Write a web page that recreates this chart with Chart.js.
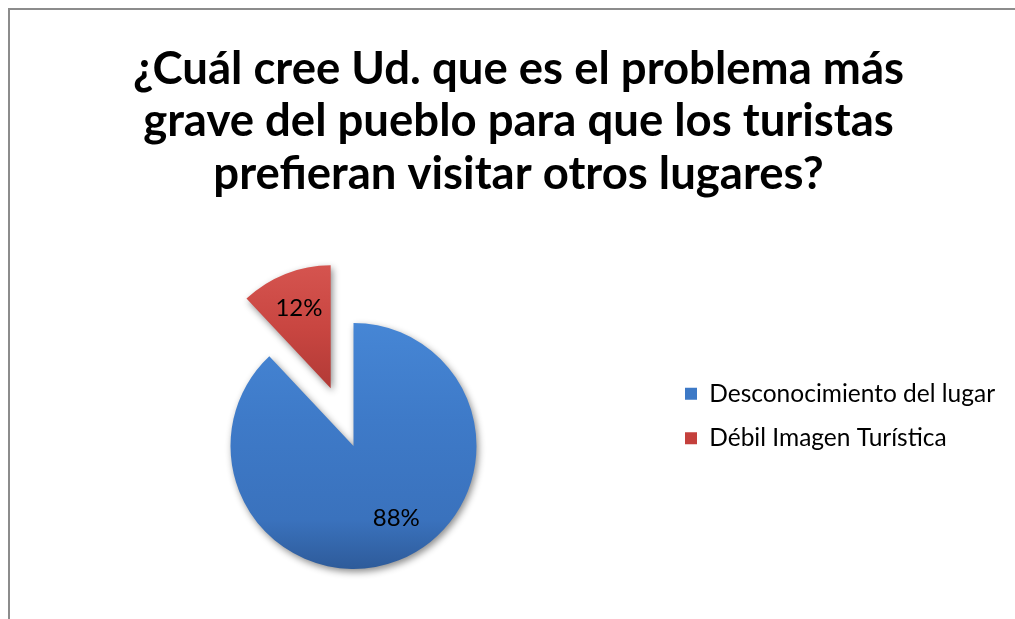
<!DOCTYPE html>
<html>
<head>
<meta charset="utf-8">
<script src="https://cdn.jsdelivr.net/npm/chart.js@4.4.1/dist/chart.umd.min.js"></script>
<style>
  html, body { margin: 0; padding: 0; background: #fff; }
  #wrap { position: relative; width: 1015px; height: 619px; overflow: hidden; }
  #frame { position: absolute; left: 8px; top: 8px; width: 1100px; height: 700px; border-left: 2px solid #8c8c8c; border-top: 2px solid #8c8c8c; }
  canvas { position: absolute; left: 0; top: 0; }
</style>
</head>
<body>
<div id="wrap">
  <div id="frame"></div>
  <canvas id="chart" width="1015" height="619"></canvas>
</div>
<script>
const titleLines = [
  "¿Cuál cree Ud. que es el problema más",
  "grave del pueblo para que los turistas",
  "prefieran visitar otros lugares?",
];
const categories = ["Desconocimiento del lugar", "Débil Imagen Turística"];
const shares = [88, 12];

// styling
const sliceColors = ["#3d79c6", "#c4403c"];
const sliceStops = [
  [[0, "#4686d5"], [0.4, "#3e7ac8"], [0.8, "#3a72bd"], [1, "#2e5b9a"]],
  [[0, "#d5544f"], [0.25, "#c94641"], [0.5, "#b23a36"], [1, "#8e2a27"]],
];
const explode = [0, 62];
const labelPos = [0.68, 0.7];
const labelTurn = [-0.16, 0];
const pieRadius = 123;
const fontFamily = "Lato, 'Open Sans', sans-serif";

function sliceFill(c) {
  const i = c.dataIndex;
  const area = c.chart.chartArea;
  if (i === undefined || !area) return sliceColors[i] || sliceColors[0];
  const total = shares.reduce((a, b) => a + b, 0);
  let before = 0;
  for (let j = 0; j < i; j++) before += shares[j];
  const mid = -Math.PI / 2 + ((before + shares[i] / 2) / total) * 2 * Math.PI;
  const cy = (area.top + area.bottom) / 2 + Math.sin(mid) * explode[i];
  const g = c.chart.ctx.createLinearGradient(0, cy - pieRadius, 0, cy + pieRadius);
  sliceStops[i].forEach((s) => g.addColorStop(s[0], s[1]));
  return g;
}

const pieExtras = {
  id: "pieExtras",
  afterDatasetUpdate(chart, args) {
    // pull slices out along their bisector
    args.meta.data.forEach((arc, i) => {
      const d = explode[i] || 0;
      if (!d) return;
      const mid = (arc.startAngle + arc.endAngle) / 2;
      arc.x += Math.cos(mid) * d;
      arc.y += Math.sin(mid) * d;
    });
  },
  beforeDatasetsDraw(chart) {
    const ctx = chart.ctx;
    ctx.save();
    ctx.shadowColor = "rgba(0,0,0,0.45)";
    ctx.shadowBlur = 7;
    ctx.shadowOffsetX = 2;
    ctx.shadowOffsetY = 3;
  },
  afterDatasetsDraw(chart) {
    const ctx = chart.ctx;
    ctx.restore();
    const meta = chart.getDatasetMeta(0);
    ctx.save();
    ctx.fillStyle = "#000";
    ctx.font = "24px " + fontFamily;
    ctx.textAlign = "center";
    ctx.textBaseline = "middle";
    meta.data.forEach((arc, i) => {
      const mid = (arc.startAngle + arc.endAngle) / 2 + labelTurn[i];
      const r = arc.outerRadius * labelPos[i];
      ctx.fillText(shares[i] + "%", arc.x + Math.cos(mid) * r, arc.y + Math.sin(mid) * r);
    });
    ctx.restore();
  },
};

const ctx = document.getElementById("chart").getContext("2d");
new Chart(ctx, {
  type: "pie",
  data: {
    labels: categories,
    datasets: [
      {
        data: shares,
        backgroundColor: sliceFill,
        borderWidth: 0,
      },
    ],
  },
  options: {
    responsive: false,
    animation: false,
    events: [],
    radius: pieRadius,
    layout: {
      padding: { left: 42, right: 20, top: 10, bottom: 19 },
    },
    plugins: {
      title: {
        display: true,
        text: titleLines,
        color: "#000",
        font: { family: fontFamily, size: 45.5, weight: "bold", lineHeight: 1.155 },
        padding: { top: 32.7, bottom: 91.5 },
      },
      legend: {
        position: "right",
        align: "start",
        fullSize: false,
        maxWidth: 330,
        title: {
          display: true,
          text: "",
          font: { size: 10, lineHeight: 1 },
          padding: { top: 30, bottom: 29.75 },
        },
        labels: {
          boxWidth: 12,
          boxHeight: 12,
          padding: 20,
          color: "#000",
          font: { family: fontFamily, size: 24.5 },
          generateLabels: (chart) => {
            const items = Chart.overrides.doughnut.plugins.legend.labels.generateLabels(chart);
            items.forEach((it, i) => {
              it.fillStyle = sliceColors[i];
              it.strokeStyle = sliceColors[i];
              it.lineWidth = 0;
            });
            return items;
          },
        },
      },
      tooltip: { enabled: false },
    },
  },
  plugins: [pieExtras],
});
</script>
</body>
</html>
